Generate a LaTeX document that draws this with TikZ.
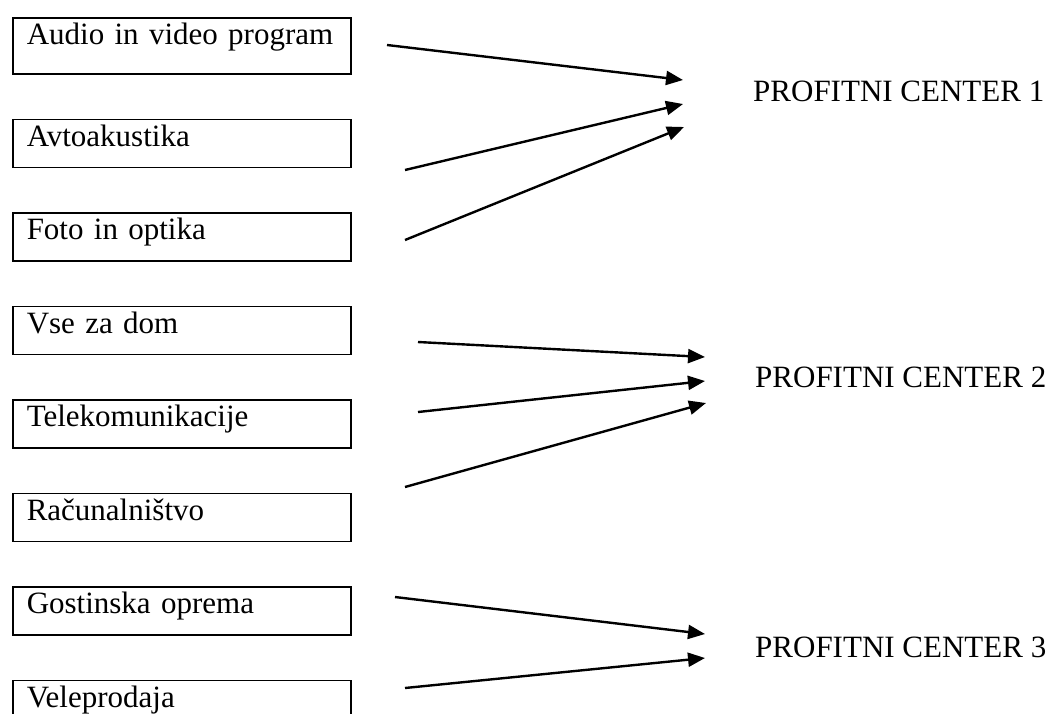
\documentclass[tikz,border=0pt]{standalone}
\usepackage{fontspec}
\setmainfont{Liberation Serif}
\usetikzlibrary{positioning,arrows.meta}

\begin{document}
\begin{tikzpicture}[
  x=1pt, y=-1pt,
  node distance=44pt,
  font=\fontsize{31}{36}\selectfont,
  unit/.style={rectangle, draw, line width=1.5pt, inner xsep=14pt, inner ysep=0pt, text width=310pt, align=left, text height=27pt, text depth=21pt},
  centre/.style={anchor=base west, inner sep=0pt},
  flow/.style={-{Triangle[length=17pt,width=14pt]}, line width=2.4pt}
]
\clip (0,0) rectangle (1048,713);
\node[unit, text depth=29pt, anchor=north west] (audio) at (12,17) {Audio in video program};
\node[unit, below=of audio] (avto) {Avtoakustika};
\node[unit, below=of avto] (foto) {Foto in optika};
\node[unit, below=of foto] (dom) {Vse za dom};
\node[unit, below=of dom] (tele) {Telekomunikacije};
\node[unit, below=of tele] (rac) {Računalništvo};
\node[unit, below=of rac] (gost) {Gostinska oprema};
\node[unit, below=of gost] (vele) {Veleprodaja};

\node[centre] (pc1) at (753,101) {PROFITNI CENTER 1};
\node[centre] (pc2) at (755,387) {PROFITNI CENTER 2};
\node[centre] (pc3) at (755,657) {PROFITNI CENTER 3};

\coordinate (audio out) at (387,45);
\coordinate (avto out) at (405,170);
\coordinate (foto out) at (405,240);
\coordinate (dom out) at (418,342);
\coordinate (tele out) at (418,412);
\coordinate (rac out) at (405,487);
\coordinate (gost out) at (395,597);
\coordinate (vele out) at (405,688);

\coordinate (pc1 a) at (683,80);
\coordinate (pc1 b) at (683,104);
\coordinate (pc1 c) at (684,127);
\coordinate (pc2 a) at (705,357);
\coordinate (pc2 b) at (705,381);
\coordinate (pc2 c) at (706,403);
\coordinate (pc3 a) at (705,634);
\coordinate (pc3 b) at (705,658);

\draw[flow] (audio out) -- (pc1 a);
\draw[flow] (avto out) -- (pc1 b);
\draw[flow] (foto out) -- (pc1 c);
\draw[flow] (dom out) -- (pc2 a);
\draw[flow] (tele out) -- (pc2 b);
\draw[flow] (rac out) -- (pc2 c);
\draw[flow] (gost out) -- (pc3 a);
\draw[flow] (vele out) -- (pc3 b);
\end{tikzpicture}
\end{document}
